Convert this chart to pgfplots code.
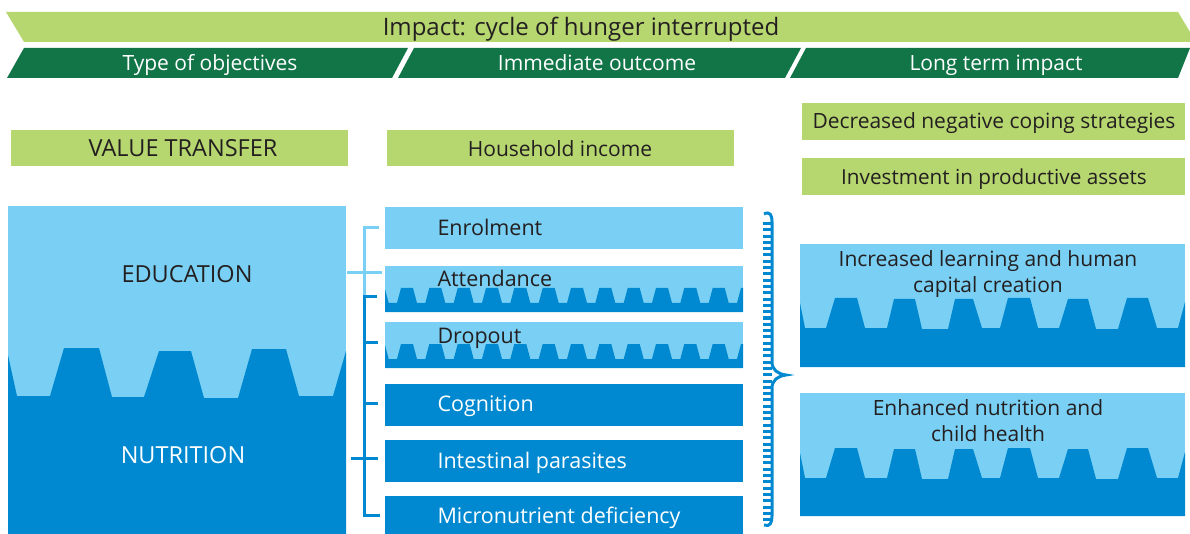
\documentclass[border=0pt]{standalone}
\usepackage{pgfplots}
\pgfplotsset{compat=1.18}
\usepackage{fontspec}
\setmainfont{Open Sans}
\definecolor{lgreen}{HTML}{B6D670}
\definecolor{dgreen}{HTML}{117548}
\definecolor{lblue}{HTML}{7AD0F4}
\definecolor{dblue}{HTML}{0089D0}
\definecolor{ink}{HTML}{231F20}
\newcommand{\fs}[1]{\fontsize{#1}{1.3\dimexpr#1\relax}\selectfont}
\begin{document}
\begin{tikzpicture}
\begin{axis}[x=1pt,y=1pt,y dir=reverse,xmin=0,xmax=1190,ymin=0,ymax=534,hide axis,clip=false,
  every node/.style={inner sep=0pt}]
\path (axis cs:0,0) rectangle (axis cs:1190,534);
% top banners
\addplot[fill=lgreen,draw=none] coordinates {(6,12) (1178,12) (1190,32) (1190,42) (24,42)} -- cycle;
\addplot[fill=dgreen,draw=none] coordinates {(7,78) (24,48) (408,48) (392,78)} -- cycle;
\addplot[fill=dgreen,draw=none] coordinates {(398,78) (414,48) (801,48) (785,78)} -- cycle;
\addplot[fill=dgreen,draw=none] coordinates {(790,78) (806,48) (1190,48) (1178,78)} -- cycle;
\node[anchor=base,text=ink,font=\fs{24pt}] at (axis cs:581,35.5) {Impact: cycle of hunger interrupted};
\node[anchor=base,text=white,font=\fs{21pt}] at (axis cs:210,70.5) {Type of objectives};
\node[anchor=base,text=white,font=\fs{21pt}] at (axis cs:597,70.5) {Immediate outcome};
\node[anchor=base,text=white,font=\fs{21pt}] at (axis cs:996,70.5) {Long term impact};
% green boxes
\addplot[fill=lgreen,draw=none] coordinates {(11,130) (348,130) (348,166) (11,166)} -- cycle;
\addplot[fill=lgreen,draw=none] coordinates {(387,130) (734,130) (734,166) (387,166)} -- cycle;
\addplot[fill=lgreen,draw=none] coordinates {(802,103) (1185,103) (1185,140) (802,140)} -- cycle;
\addplot[fill=lgreen,draw=none] coordinates {(802,158) (1185,158) (1185,195) (802,195)} -- cycle;
\node[anchor=base,text=ink,font=\fs{23.5pt}] at (axis cs:183,156.5) {VALUE TRANSFER};
\node[anchor=base,text=ink,font=\fs{21pt}] at (axis cs:560,156.5) {Household income};
\node[anchor=base,text=ink,font=\fs{21pt}] at (axis cs:994,128.5) {Decreased negative coping strategies};
\node[anchor=base,text=ink,font=\fs{20.7pt}] at (axis cs:994,184.5) {Investment in productive assets};
% left big box
\addplot[fill=lblue,draw=none] coordinates {(8,206) (346,206) (346,534) (8,534)} -- cycle;
\addplot[fill=dblue,draw=none] coordinates {(8,355) (17,396) (50,396) (64,348) (99,348) (112,397) (144,397) (159,351) (191,351) (204,398) (238,398) (252,349) (286,349) (299,396) (333,396) (346,351) (346,534) (8,534)} -- cycle;
\node[anchor=base,text=ink,font=\fs{23.5pt}] at (axis cs:187,282.5) {EDUCATION};
\node[anchor=base,text=white,font=\fs{23.5pt}] at (axis cs:183,463.5) {NUTRITION};
% middle boxes
\addplot[fill=lblue,draw=none] coordinates {(385,207) (743,207) (743,249) (385,249)} -- cycle;
\addplot[fill=lblue,draw=none] coordinates {(385,266) (743,266) (743,312) (385,312)} -- cycle;
\addplot[fill=dblue,draw=none] coordinates {(385,289) (388.7,303) (397,303) (401,288) (413,288) (417,303) (425.3,303) (429.3,288) (441.3,288) (445.3,303) (453.7,303) (457.7,288) (469.7,288) (473.7,303) (482,303) (486,288) (498,288) (502,303) (510.3,303) (514.3,288) (526.3,288) (530.3,303) (538.7,303) (542.7,288) (554.7,288) (558.7,303) (567,303) (571,288) (583,288) (587,303) (595.3,303) (599.3,288) (611.3,288) (615.3,303) (623.7,303) (627.7,288) (639.7,288) (643.7,303) (652,303) (656,288) (668,288) (672,303) (680.3,303) (684.3,288) (696.3,288) (700.3,303) (708.7,303) (712.7,288) (724.7,288) (728.7,303) (737,303) (741,288) (743,288) (743,312) (385,312)} -- cycle;
\addplot[fill=lblue,draw=none] coordinates {(385,322) (743,322) (743,368) (385,368)} -- cycle;
\addplot[fill=dblue,draw=none] coordinates {(385,345) (388.7,359) (397,359) (401,344) (413,344) (417,359) (425.3,359) (429.3,344) (441.3,344) (445.3,359) (453.7,359) (457.7,344) (469.7,344) (473.7,359) (482,359) (486,344) (498,344) (502,359) (510.3,359) (514.3,344) (526.3,344) (530.3,359) (538.7,359) (542.7,344) (554.7,344) (558.7,359) (567,359) (571,344) (583,344) (587,359) (595.3,359) (599.3,344) (611.3,344) (615.3,359) (623.7,359) (627.7,344) (639.7,344) (643.7,359) (652,359) (656,344) (668,344) (672,359) (680.3,359) (684.3,344) (696.3,344) (700.3,359) (708.7,359) (712.7,344) (724.7,344) (728.7,359) (737,359) (741,344) (743,344) (743,368) (385,368)} -- cycle;
\addplot[fill=dblue,draw=none] coordinates {(385,384) (743,384) (743,426) (385,426)} -- cycle;
\addplot[fill=dblue,draw=none] coordinates {(385,440) (743,440) (743,482) (385,482)} -- cycle;
\addplot[fill=dblue,draw=none] coordinates {(385,496) (743,496) (743,534) (385,534)} -- cycle;
\node[anchor=base west,text=ink,font=\fs{21.5pt}] at (axis cs:434,235.7) {Enrolment};
\node[anchor=base west,text=ink,font=\fs{21.5pt}] at (axis cs:434,286.7) {Attendance};
\node[anchor=base west,text=ink,font=\fs{21.5pt}] at (axis cs:434,343.7) {Dropout};
\node[anchor=base west,text=white,font=\fs{21.5pt}] at (axis cs:434,411.7) {Cognition};
\node[anchor=base west,text=white,font=\fs{21.5pt}] at (axis cs:434,468.7) {Intestinal parasites};
\node[anchor=base west,text=white,font=\fs{21.5pt}] at (axis cs:434,523.7) {Micronutrient deficiency};
% connectors
\addplot[lblue,line width=3pt] coordinates {(379,228) (364,228) (364,295)};
\addplot[lblue,line width=3pt] coordinates {(347,273) (382,273)};
\addplot[dblue,line width=3pt] coordinates {(377,297) (364,297) (364,515) (380,515)};
\addplot[dblue,line width=3pt] coordinates {(364,342) (378,342)};
\addplot[dblue,line width=3pt] coordinates {(364,403) (378,403)};
\addplot[dblue,line width=3pt] coordinates {(351,458) (378,458)};
% brace
\addplot[dblue,line width=9pt,dash pattern=on 3pt off 3.3pt] coordinates {(767.5,222) (767.5,524)};
\draw[dblue,line width=3pt] (axis cs:764,214) .. controls (axis cs:770,211) and (axis cs:772,215) .. (axis cs:772,222) -- (axis cs:772,362) .. controls (axis cs:772,370) and (axis cs:778,374) .. (axis cs:786,375) .. controls (axis cs:778,376) and (axis cs:772,380) .. (axis cs:772,388) -- (axis cs:772,516) .. controls (axis cs:772,523) and (axis cs:770,527) .. (axis cs:764,525);
% right boxes
\addplot[fill=lblue,draw=none] coordinates {(800,244) (1185,244) (1185,367) (800,367)} -- cycle;
\addplot[fill=dblue,draw=none] coordinates {(800,303) (805,328) (826,328) (835,298) (857,298) (865,328) (887,328) (894,299) (915,299) (922,329) (948,329) (955,299) (973,299) (982,328) (1000,328) (1008,298) (1030,298) (1038,328) (1059,328) (1068,299) (1088,299) (1096,329) (1118,329) (1127,298) (1148,298) (1157,328) (1178,328) (1185,302) (1185,367) (800,367)} -- cycle;
\addplot[fill=lblue,draw=none] coordinates {(800,393) (1185,393) (1185,516) (800,516)} -- cycle;
\addplot[fill=dblue,draw=none] coordinates {(800,453) (805,478) (826,478) (835,448) (857,448) (865,478) (887,478) (894,449) (915,449) (922,479) (948,479) (955,449) (973,449) (982,478) (1000,478) (1008,448) (1030,448) (1038,478) (1059,478) (1068,449) (1088,449) (1096,479) (1118,479) (1127,448) (1148,448) (1157,478) (1178,478) (1185,452) (1185,516) (800,516)} -- cycle;
\node[anchor=base,text=ink,font=\fs{21pt}] at (axis cs:988,266.5) {Increased learning and human};
\node[anchor=base,text=ink,font=\fs{21pt}] at (axis cs:988,292.5) {capital creation};
\node[anchor=base,text=ink,font=\fs{21pt}] at (axis cs:988,415.5) {Enhanced nutrition and};
\node[anchor=base,text=ink,font=\fs{21pt}] at (axis cs:988,441.5) {child health};
\end{axis}
\end{tikzpicture}
\end{document}
